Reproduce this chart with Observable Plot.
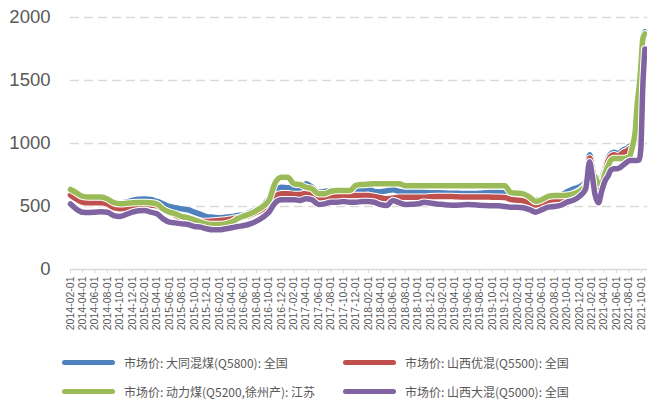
<!DOCTYPE html>
<html>
<head>
<meta charset="utf-8">
<script src="https://cdn.jsdelivr.net/npm/d3@7"></script>
<script src="https://cdn.jsdelivr.net/npm/@observablehq/plot@0.6"></script>
<style>
  body { margin: 0; background: #fff; width: 647px; overflow: hidden; }
  #legend { position: relative; width: 647px; height: 62px; }
  .item { position: absolute; display: flex; align-items: center; height: 16px; }
  .swatch { width: 53px; height: 5px; border-radius: 2.5px; }
  .label { margin-left: 9px; font: 12px "Noto Sans CJK SC", sans-serif; color: #595959; white-space: nowrap; }
</style>
</head>
<body>
<div id="chart"></div>
<div id="legend"></div>
<script>
// Observation dates: monthly to Jan 2021, then roughly twice a month
const dates = [
  "2014-02-01","2014-03-01","2014-04-01","2014-05-01","2014-06-01","2014-07-01","2014-08-01","2014-09-01","2014-10-01","2014-11-01","2014-12-01",
  "2015-01-01","2015-02-01","2015-03-01","2015-04-01","2015-05-01","2015-06-01","2015-07-01","2015-08-01","2015-09-01","2015-10-01","2015-11-01","2015-12-01",
  "2016-01-01","2016-02-01","2016-03-01","2016-04-01","2016-05-01","2016-06-01","2016-07-01","2016-08-01","2016-09-01","2016-10-01","2016-11-01","2016-12-01",
  "2017-01-01","2017-02-01","2017-03-01","2017-04-01","2017-05-01","2017-06-01","2017-07-01","2017-08-01","2017-09-01","2017-10-01","2017-11-01","2017-12-01",
  "2018-01-01","2018-02-01","2018-03-01","2018-04-01","2018-05-01","2018-06-01","2018-07-01","2018-08-01","2018-09-01","2018-10-01","2018-11-01","2018-12-01",
  "2019-01-01","2019-02-01","2019-03-01","2019-04-01","2019-05-01","2019-06-01","2019-07-01","2019-08-01","2019-09-01","2019-10-01","2019-11-01","2019-12-01",
  "2020-01-01","2020-02-01","2020-03-01","2020-04-01","2020-05-01","2020-06-01","2020-07-01","2020-08-01","2020-09-01","2020-10-01","2020-11-01","2020-12-01",
  "2021-01-01","2021-01-20","2021-02-01","2021-02-15","2021-03-05","2021-03-20","2021-04-05","2021-04-20","2021-05-05","2021-05-20",
  "2021-06-05","2021-06-20","2021-07-05","2021-07-20","2021-08-05","2021-08-20","2021-09-01","2021-09-10","2021-09-20","2021-09-28",
  "2021-10-08","2021-10-18"
];

// 市场价: 大同混煤(Q5800): 全国
const datongQ5800 = [
  625,605,578,572,572,572,560,535,525,535,548,
  558,560,556,540,521,500,490,481,474,455,437,420,
  415,410,415,420,428,432,455,474,508,561,620,653,
  648,640,632,680,653,614,619,627,630,632,632,632,
  632,640,620,618,625,632,620,614,614,614,612,610,
  610,608,606,605,604,603,603,605,610,612,612,610,
  600,595,585,565,550,555,572,580,590,615,640,655,
  700,910,840,700,640,720,800,880,920,930,
  920,930,950,960,980,1000,1050,1300,1450,1600,
  1850,1885
];

// 市场价: 山西优混(Q5500): 全国
const shanxiQ5500 = [
  590,560,534,530,530,530,520,490,482,488,500,
  515,520,512,505,474,455,430,402,389,385,380,380,
  385,389,394,402,410,420,432,455,481,521,580,601,
  601,596,596,606,601,569,574,580,580,582,588,588,
  588,588,579,570,561,565,574,574,574,574,574,578,
  580,580,580,578,576,575,575,575,575,574,574,572,
  555,550,545,530,512,520,548,555,560,575,600,625,
  680,885,810,660,580,690,770,860,900,910,
  900,910,930,940,960,980,1030,1270,1420,1570,
  1820,1855
];

// 市场价: 动力煤(Q5200,徐州产): 江苏
const xuzhouQ5200 = [
  635,610,580,575,575,575,560,530,522,525,530,
  532,532,530,520,480,455,442,420,410,394,376,362,
  357,357,362,376,405,425,442,468,500,548,690,733,
  733,680,675,653,640,601,601,621,627,627,627,667,
  675,678,680,680,680,680,680,665,665,665,665,665,
  665,665,665,665,665,665,665,665,665,665,665,665,
  610,606,600,575,540,555,580,587,587,590,600,620,
  660,670,680,740,680,680,760,820,870,880,
  880,880,880,885,900,990,1100,1300,1450,1600,
  1830,1870
];

// 市场价: 山西大混(Q5000): 全国
const shanxiQ5000 = [
  520,481,455,452,455,458,455,428,421,437,455,
  466,468,455,442,402,376,370,362,357,341,336,323,
  315,315,323,331,341,349,362,384,415,455,530,553,
  553,553,548,561,553,516,521,534,534,540,534,534,
  540,540,534,515,508,548,530,516,518,521,534,528,
  520,516,512,510,512,515,514,510,508,505,505,500,
  495,495,490,475,455,475,495,500,510,535,550,580,
  640,855,760,600,530,620,700,740,790,800,
  800,810,830,850,865,865,865,865,870,950,
  1450,1750
];

const seriesNames = [
  "市场价: 大同混煤(Q5800): 全国",
  "市场价: 山西优混(Q5500): 全国",
  "市场价: 动力煤(Q5200,徐州产): 江苏",
  "市场价: 山西大混(Q5000): 全国"
];
const seriesColors = ["#4F81BD", "#C0504D", "#9BBB59", "#8064A2"];
const seriesValues = [datongQ5800, shanxiQ5500, xuzhouQ5200, shanxiQ5000];

const yTicks = [0, 500, 1000, 1500, 2000];
const xTickLabels = [
  "2014-02-01","2014-04-01","2014-06-01","2014-08-01","2014-10-01","2014-12-01",
  "2015-02-01","2015-04-01","2015-06-01","2015-08-01","2015-10-01","2015-12-01",
  "2016-02-01","2016-04-01","2016-06-01","2016-08-01","2016-10-01","2016-12-01",
  "2017-02-01","2017-04-01","2017-06-01","2017-08-01","2017-10-01","2017-12-01",
  "2018-02-01","2018-04-01","2018-06-01","2018-08-01","2018-10-01","2018-12-01",
  "2019-02-01","2019-04-01","2019-06-01","2019-08-01","2019-10-01","2019-12-01",
  "2020-02-01","2020-04-01","2020-06-01","2020-08-01","2020-10-01","2020-12-01",
  "2021-02-01","2021-04-01","2021-06-01","2021-08-01","2021-10-01"
];

const parse = d3.utcParse("%Y-%m-%d");
const xTicks = xTickLabels.map(parse);

const rows = [];
seriesNames.forEach((name, s) => {
  dates.forEach((d, i) => rows.push({series: name, s, date: parse(d), value: seriesValues[s][i]}));
});

const lineMarks = [];
seriesNames.forEach((name, s) => {
  const data = rows.filter(r => r.s === s);
  lineMarks.push(Plot.line(data, {x: "date", y: "value", stroke: "#fff", strokeWidth: 7.5, curve: "monotone-x", strokeLinejoin: "round", strokeLinecap: "round"}));
  lineMarks.push(Plot.line(data, {x: "date", y: "value", stroke: seriesColors[s], strokeWidth: 5.5, curve: "monotone-x", strokeLinejoin: "round", strokeLinecap: "round"}));
});

const chart = Plot.plot({
  width: 647,
  height: 340,
  marginLeft: 70,
  marginRight: 0,
  marginTop: 17,
  marginBottom: 71,
  style: {fontFamily: "'Liberation Sans', Arial, sans-serif", background: "#fff", overflow: "visible"},
  x: {type: "utc", domain: [parse("2014-02-01"), parse("2021-10-31")]},
  y: {domain: [0, 2000]},
  marks: [
    Plot.ruleY(yTicks.filter(d => d > 0), {stroke: "#d9d9d9", strokeWidth: 1.5, strokeDasharray: "9,5"}),
    Plot.ruleY([0], {stroke: "#d9d9d9", strokeWidth: 1.5}),
    Plot.axisY({ticks: yTicks, tickFormat: d => String(d), tickSize: 0, tickPadding: 20, fontSize: 18.5, fill: "#595959", label: null}),
    Plot.axisX({ticks: xTicks, tickFormat: d3.utcFormat("%Y-%m-%d"), tickRotate: -90, tickSize: 4, tickPadding: 3,
                stroke: "#d9d9d9", fill: "#595959", fontSize: 10.5, label: null}),
    ...lineMarks
  ]
});
document.getElementById("chart").append(chart);

// Legend: two rows, two columns
const legend = document.getElementById("legend");
const legendPos = [[62, 14], [343, 14], [62, 43], [343, 43]];
seriesNames.forEach((name, s) => {
  const item = document.createElement("div");
  item.className = "item";
  item.style.left = legendPos[s][0] + "px";
  item.style.top = legendPos[s][1] + "px";
  const sw = document.createElement("span");
  sw.className = "swatch";
  sw.style.background = seriesColors[s];
  const lb = document.createElement("span");
  lb.className = "label";
  lb.textContent = name;
  item.append(sw, lb);
  legend.append(item);
});
</script>
</body>
</html>
